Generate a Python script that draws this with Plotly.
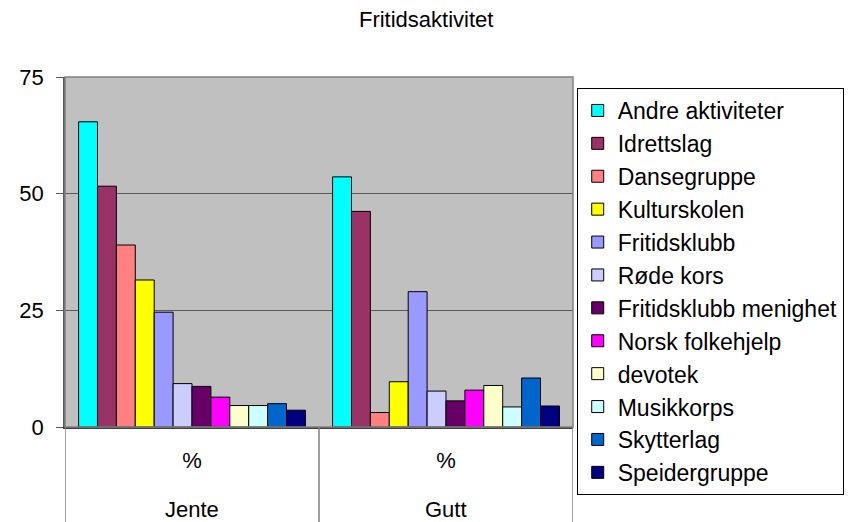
import plotly.graph_objects as go

title = "Fritidsaktivitet"
groups = ["Jente", "Gutt"]
sublabels = ["%", "%"]
series = ["Andre aktiviteter", "Idrettslag", "Dansegruppe", "Kulturskolen", "Fritidsklubb",
          "Røde kors", "Fritidsklubb menighet", "Norsk folkehjelp", "devotek", "Musikkorps",
          "Skytterlag", "Speidergruppe"]
jente = [65.4, 51.6, 39.0, 31.5, 24.6, 9.3, 8.7, 6.4, 4.6, 4.6, 5.0, 3.6]
gutt = [53.6, 46.2, 3.1, 9.7, 29.0, 7.7, 5.6, 7.9, 8.9, 4.3, 10.5, 4.5]
colors = ["#00FFFF", "#993366", "#FF8080", "#FFFF00", "#9999FF", "#CCCCFF",
          "#660066", "#FF00FF", "#FFFFCC", "#CCFFFF", "#0066CC", "#000080"]
yticks = [0, 25, 50, 75]

FONT = "Liberation Sans, Arial, sans-serif"
W, H = 849, 522
ML, MR, MT, MB = 65, 276, 77, 95
PH = H - MT - MB

fig = go.Figure()
for i, name in enumerate(series):
    fig.add_trace(go.Bar(
        name=name,
        x=groups,
        y=[jente[i], gutt[i]],
        marker=dict(color=colors[i], line=dict(color="black", width=1)),
        legendgroup=name,
    ))

n = len(groups)
xrange = [-0.5, n - 0.5]

fig.update_layout(
    width=W, height=H,
    margin=dict(l=ML, r=MR, t=MT, b=MB, pad=0, autoexpand=False),
    paper_bgcolor="white",
    plot_bgcolor="#C0C0C0",
    barmode="group", bargap=0.107, bargroupgap=0,
    font=dict(family=FONT, size=22, color="black"),
    title=dict(text=title, x=0.502, xref="container", xanchor="center",
               y=0.963, yref="container", yanchor="middle",
               font=dict(family=FONT, size=22, color="black")),
    legend=dict(x=1.0073, xanchor="left", xref="paper",
                y=1 - 88 / H, yanchor="top", yref="container",
                bordercolor="black", borderwidth=1, bgcolor="white",
                font=dict(family=FONT, size=23, color="black"),
                tracegroupgap=0, itemclick=False, maxheight=500),
    showlegend=True,
    xaxis=dict(type="category", range=xrange, tickvals=groups, ticktext=sublabels,
               ticks="", showline=True, linecolor="#404040", linewidth=1.5,
               showgrid=False, tickfont=dict(size=22), ticklabelstandoff=13),
    yaxis=dict(range=[0, 75], tickvals=yticks, showgrid=True, gridcolor="#5a5a5a",
               gridwidth=1, ticks="outside", ticklen=7, tickcolor="#5a5a5a",
               showline=True, linecolor="#5a5a5a", linewidth=1.5, zeroline=False,
               ticklabelstandoff=8, tickfont=dict(size=22)),
)

# outer category labels (Jente / Gutt) below the "%" tick labels
for g in groups:
    fig.add_annotation(text=g, x=g, xref="x", y=-(509 - (H - MB)) / PH, yref="paper",
                       yanchor="middle", showarrow=False,
                       font=dict(family=FONT, size=22, color="black"))

# category dividers below the axis (left edge, between groups, right edge)
for i in range(n + 1):
    fig.add_shape(type="line", xref="x", yref="paper", x0=i - 0.5, x1=i - 0.5,
                  y0=0, y1=-(MB + 2) / PH, line=dict(color="#808080", width=1.5))

# Plot area frame (top and right) like the Excel plot area border
fig.add_shape(type="rect", xref="paper", yref="paper", x0=0, x1=1, y0=0, y1=1,
              line=dict(color="#808080", width=1.5), layer="above")

fig.write_html("out.html", config={"displayModeBar": False},
               post_script="document.body.style.margin='0';")
